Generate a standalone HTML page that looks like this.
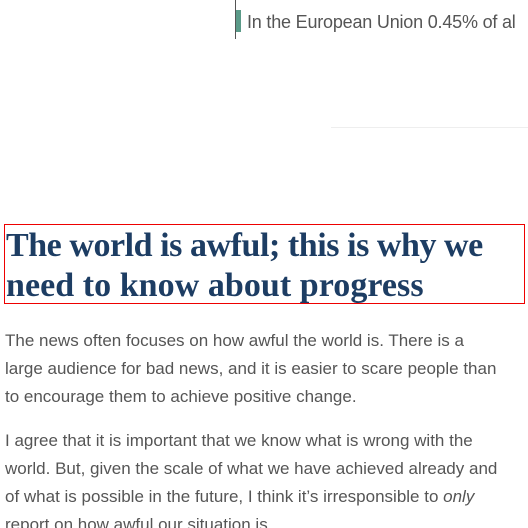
<!DOCTYPE html>
<html><head><meta charset="utf-8"><style>
html,body{margin:0;padding:0;width:528px;height:528px;overflow:hidden;background:#fff;}
body{position:relative;font-family:"Liberation Sans",sans-serif;}
.abs{position:absolute;white-space:nowrap;}
.h{font-family:"Liberation Serif",serif;font-weight:bold;color:#1d3d63;font-size:34px;left:6px;}
.p{color:#555;font-size:17px;left:5px;}
</style></head><body>
<div class="abs" style="left:235px;top:0;width:1px;height:39px;background:#555;"></div>
<div class="abs" style="left:236px;top:10px;width:5px;height:22px;background:#5a9a88;"></div>
<div class="abs" style="left:247px;top:10px;font-size:18px;color:#555;line-height:24px;letter-spacing:-0.2px;">In the European Union 0.45% of al</div>
<div class="abs" style="left:331px;top:127px;width:197px;height:1px;background:#eee;"></div>
<div class="abs" style="left:4px;top:224px;width:519px;height:78px;border:1px solid #e00;"></div>
<div class="abs h" style="top:227px;line-height:38px;letter-spacing:-0.45px;">The world is awful; this is why we</div>
<div class="abs h" style="top:267px;line-height:38px;letter-spacing:0.05px;">need to know about progress</div>
<div class="abs p" style="top:327px;line-height:28px;">The news often focuses on how awful the world is. There is a<br>large audience for bad news, and it is easier to scare people than<br>to encourage them to achieve positive change.</div>
<div class="abs p" style="top:427px;line-height:28px;">I agree that it is important that we know what is wrong with the<br>world. But, given the scale of what we have achieved already and<br>of what is possible in the future, I think it’s irresponsible to <i>only</i><br>report on how awful our situation is.</div>
</body></html>
